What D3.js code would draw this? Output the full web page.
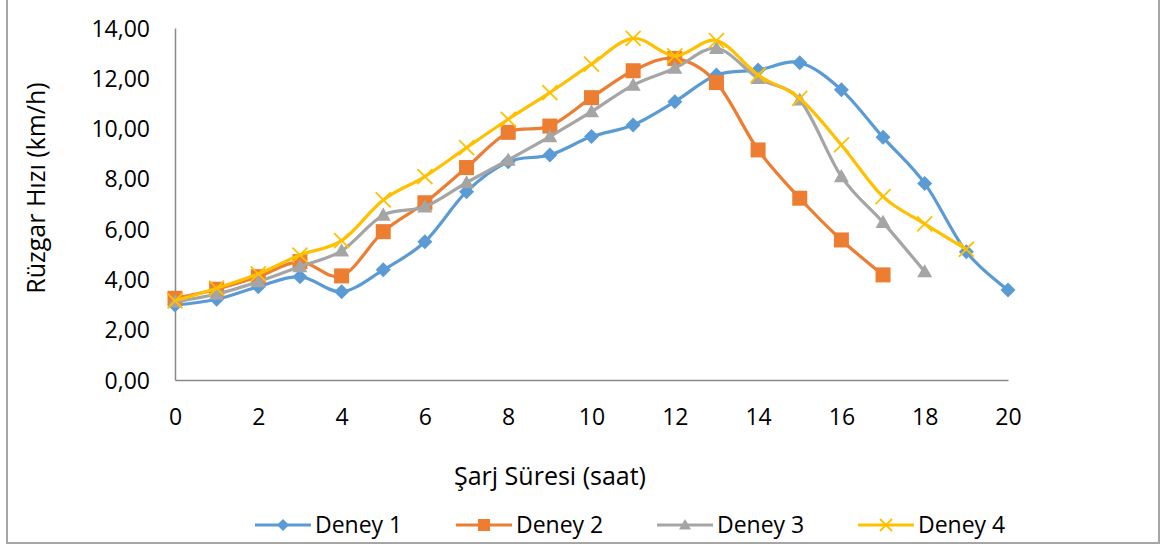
<!DOCTYPE html>
<meta charset="utf-8">
<script src="https://d3js.org/d3.v7.min.js"></script>
<style>
  body { margin: 0; background: #fff; }
  text { font-family: "Open Sans", sans-serif; fill: #000; }
</style>
<div id="chart"></div>
<script>
// saat values on x axis
var hours = [0, 1, 2, 3, 4, 5, 6, 7, 8, 9, 10, 11, 12, 13, 14, 15, 16, 17, 18, 19, 20];
var deney1 = [2.98, 3.21, 3.71, 4.11, 3.51, 4.38, 5.50, 7.49, 8.68, 8.95, 9.68, 10.14, 11.07, 12.13, 12.33, 12.62, 11.54, 9.65, 7.82, 5.10, 3.58];
var deney2 = [3.25, 3.61, 4.11, 4.71, 4.14, 5.90, 7.05, 8.45, 9.85, 10.10, 11.23, 12.30, 12.79, 11.83, 9.15, 7.23, 5.57, 4.18];
var deney3 = [3.11, 3.42, 3.91, 4.51, 5.14, 6.56, 6.89, 7.85, 8.75, 9.68, 10.67, 11.73, 12.40, 13.19, 12.00, 11.14, 8.09, 6.27, 4.31];
var deney4 = [3.15, 3.65, 4.22, 4.97, 5.54, 7.16, 8.09, 9.24, 10.37, 11.43, 12.56, 13.59, 12.89, 13.50, 12.13, 11.20, 9.35, 7.29, 6.21, 5.20];
var seriesNames = ["Deney 1", "Deney 2", "Deney 3", "Deney 4"];
var xTicks = [0, 2, 4, 6, 8, 10, 12, 14, 16, 18, 20];
var yTicks = [0, 2, 4, 6, 8, 10, 12, 14];

var W = 1164, H = 556;
var margin = {top: 28, right: 156, bottom: 176, left: 175};
var width = W - margin.left - margin.right,
    height = H - margin.top - margin.bottom;

var series = [
  {name: seriesNames[0], values: deney1, color: "#5B9BD5", marker: "diamond"},
  {name: seriesNames[1], values: deney2, color: "#ED7D31", marker: "square"},
  {name: seriesNames[2], values: deney3, color: "#A5A5A5", marker: "triangle"},
  {name: seriesNames[3], values: deney4, color: "#FFC000", marker: "cross"}
];

var svg = d3.select("#chart").append("svg")
    .attr("width", W).attr("height", H);

// outer frame
svg.append("rect")
    .attr("x", 7).attr("y", -2).attr("width", 1152).attr("height", 545)
    .attr("fill", "none").attr("stroke", "#a6a6a6").attr("stroke-width", 2);

var g = svg.append("g")
    .attr("transform", "translate(" + margin.left + "," + margin.top + ")");

var x = d3.scaleLinear().domain([0, 20]).range([0, width]);
var y = d3.scaleLinear().domain([0, 14]).range([height, 0]);

var fmt = function(d) { return d.toFixed(2).replace(".", ","); };

var yAxis = g.append("g")
    .call(d3.axisLeft(y).tickValues(yTicks).tickSize(0).tickPadding(25).tickFormat(fmt));
yAxis.select(".domain").attr("stroke", "#898989").attr("stroke-width", 1.5);
yAxis.selectAll("text").style("font-size", "23px").attr("dy", "0.35em");

var xAxis = g.append("g")
    .attr("transform", "translate(0," + height + ")")
    .call(d3.axisBottom(x).tickValues(xTicks).tickSize(0).tickPadding(45).tickFormat(d3.format("d")));
xAxis.select(".domain").attr("stroke", "#898989").attr("stroke-width", 1.5);
xAxis.selectAll("text").style("font-size", "23px").attr("dy", "0");

// axis titles
svg.append("text")
    .attr("x", 550).attr("y", 485)
    .attr("text-anchor", "middle")
    .style("font-size", "25px")
    .text("Şarj Süresi (saat)");

svg.append("text")
    .attr("transform", "translate(45,188) rotate(-90)")
    .attr("text-anchor", "middle")
    .style("font-size", "25px")
    .text("Rüzgar Hızı (km/h)");

function markerPath(type, r) {
  if (type == "diamond") return "M0," + (-r) + "L" + r + ",0L0," + r + "L" + (-r) + ",0Z";
  if (type == "square") return "M" + (-r) + "," + (-r) + "h" + (2*r) + "v" + (2*r) + "h" + (-2*r) + "Z";
  if (type == "triangle") return "M0," + (-r) + "L" + r + "," + (r*0.75) + "L" + (-r) + "," + (r*0.75) + "Z";
  return "M" + (-r) + "," + (-r) + "L" + r + "," + r + "M" + r + "," + (-r) + "L" + (-r) + "," + r;
}

function drawMarker(sel, s, r) {
  if (s.marker == "cross") {
    sel.append("path").attr("d", markerPath("cross", r))
      .attr("stroke", s.color).attr("stroke-width", 1.8).attr("fill", "none");
  } else {
    sel.append("path").attr("d", markerPath(s.marker, r))
      .attr("fill", s.color);
  }
}

var line = d3.line()
    .x(function(d, i) { return x(hours[i]); })
    .y(function(d) { return y(d); })
    .curve(d3.curveCatmullRom.alpha(0));

series.forEach(function(s) {
  var sg = g.append("g");
  sg.append("path")
    .datum(s.values)
    .attr("d", line)
    .attr("fill", "none")
    .attr("stroke", s.color)
    .attr("stroke-width", 3.2)
    .attr("stroke-linejoin", "round");
  s.values.forEach(function(v, i) {
    var m = sg.append("g").attr("transform", "translate(" + x(hours[i]) + "," + y(v) + ")");
    drawMarker(m, s, 7.5);
  });
});

// legend
var legend = svg.append("g").attr("transform", "translate(255,525)");
series.forEach(function(s, i) {
  var lg = legend.append("g").attr("transform", "translate(" + (i * 201) + ",0)");
  lg.append("line").attr("x1", 0).attr("x2", 56).attr("y1", 0).attr("y2", 0)
    .attr("stroke", s.color).attr("stroke-width", 3.2);
  var m = lg.append("g").attr("transform", "translate(28,0)");
  drawMarker(m, s, 6);
  lg.append("text").attr("x", 60).attr("y", 8)
    .style("font-size", "23px").text(s.name);
});
</script>
